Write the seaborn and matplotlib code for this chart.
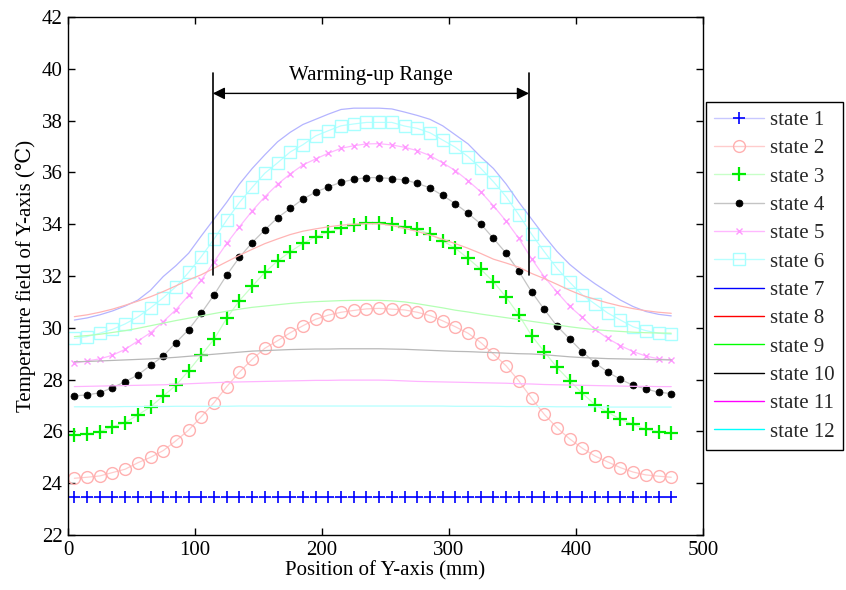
import numpy as np
import pandas as pd
import seaborn as sns
import matplotlib
matplotlib.use("Agg")
import matplotlib.pyplot as plt
from matplotlib.lines import Line2D

# ---------------- data ----------------
position_mm = list(range(5, 476, 10))  # 48 sample positions

state1 = [23.45] * 48
state2 = [24.19, 24.23, 24.28, 24.41, 24.54, 24.79, 25.00, 25.26, 25.64, 26.05,
          26.57, 27.11, 27.73, 28.29, 28.78, 29.21, 29.50, 29.81, 30.08, 30.33,
          30.49, 30.60, 30.67, 30.73, 30.75, 30.72, 30.69, 30.60, 30.47, 30.27,
          30.04, 29.79, 29.43, 28.99, 28.53, 27.95, 27.28, 26.66, 26.14, 25.71,
          25.35, 25.05, 24.82, 24.60, 24.43, 24.32, 24.27, 24.23]
state3 = [25.86, 25.90, 25.99, 26.18, 26.34, 26.63, 26.95, 27.37, 27.78, 28.34,
          28.95, 29.56, 30.37, 31.05, 31.60, 32.14, 32.58, 32.94, 33.26, 33.52,
          33.70, 33.84, 33.97, 34.03, 34.03, 34.00, 33.90, 33.80, 33.62, 33.36,
          33.07, 32.68, 32.26, 31.78, 31.18, 30.50, 29.70, 29.08, 28.47, 27.96,
          27.47, 27.03, 26.74, 26.47, 26.27, 26.08, 25.99, 25.95]
state4 = [27.37, 27.41, 27.49, 27.69, 27.92, 28.18, 28.55, 28.91, 29.43, 29.93,
          30.57, 31.27, 32.04, 32.72, 33.29, 33.78, 34.25, 34.61, 34.97, 35.24,
          35.44, 35.62, 35.73, 35.80, 35.80, 35.76, 35.71, 35.58, 35.40, 35.11,
          34.79, 34.42, 34.01, 33.45, 32.88, 32.18, 31.39, 30.71, 30.07, 29.57,
          29.07, 28.65, 28.29, 28.01, 27.78, 27.64, 27.51, 27.46]
state5 = [28.63, 28.72, 28.80, 28.94, 29.17, 29.49, 29.81, 30.24, 30.70, 31.25,
          31.84, 32.55, 33.26, 33.90, 34.51, 35.06, 35.54, 35.94, 36.29, 36.52,
          36.74, 36.93, 37.03, 37.10, 37.11, 37.06, 36.97, 36.84, 36.65, 36.37,
          36.07, 35.68, 35.25, 34.71, 34.12, 33.45, 32.67, 31.97, 31.38, 30.83,
          30.40, 29.94, 29.59, 29.31, 29.08, 28.91, 28.80, 28.76]
state6 = [29.59, 29.66, 29.79, 29.94, 30.15, 30.42, 30.77, 31.16, 31.59, 32.14,
          32.75, 33.43, 34.16, 34.84, 35.42, 35.97, 36.37, 36.79, 37.07, 37.41,
          37.61, 37.80, 37.87, 37.93, 37.93, 37.93, 37.79, 37.70, 37.53, 37.25,
          36.97, 36.61, 36.16, 35.64, 35.06, 34.36, 33.62, 32.94, 32.30, 31.76,
          31.27, 30.92, 30.57, 30.30, 30.04, 29.89, 29.79, 29.75]
state7 = [30.30, 30.38, 30.50, 30.65, 30.84, 31.07, 31.45, 31.98, 32.40, 32.88,
          33.55, 34.20, 34.85, 35.55, 36.15, 36.68, 37.18, 37.55, 37.85, 38.05,
          38.25, 38.43, 38.48, 38.48, 38.48, 38.45, 38.33, 38.20, 38.05, 37.80,
          37.45, 37.10, 36.60, 36.15, 35.55, 34.85, 34.20, 33.55, 32.95, 32.45,
          32.05, 31.70, 31.38, 31.07, 30.82, 30.63, 30.52, 30.46]
state8 = [30.43, 30.50, 30.60, 30.72, 30.87, 31.03, 31.20, 31.40, 31.62, 31.85,
          32.05, 32.30, 32.55, 32.80, 33.03, 33.25, 33.43, 33.60, 33.73, 33.82,
          33.90, 33.96, 34.00, 34.02, 34.02, 33.95, 33.84, 33.72, 33.58, 33.42,
          33.25, 33.07, 32.87, 32.65, 32.50, 32.34, 32.10, 31.90, 31.68, 31.45,
          31.25, 31.10, 30.96, 30.84, 30.74, 30.66, 30.60, 30.56]
state9 = [29.66, 29.70, 29.75, 29.82, 29.89, 29.98, 30.08, 30.18, 30.28, 30.37,
          30.46, 30.55, 30.64, 30.72, 30.79, 30.84, 30.89, 30.94, 30.98, 31.01,
          31.03, 31.05, 31.06, 31.06, 31.06, 31.04, 31.00, 30.93, 30.85, 30.77,
          30.68, 30.61, 30.53, 30.46, 30.39, 30.32, 30.25, 30.18, 30.11, 30.04,
          29.98, 29.93, 29.89, 29.86, 29.83, 29.81, 29.80, 29.79]
state10 = [28.69, 28.70, 28.72, 28.74, 28.76, 28.78, 28.80, 28.83, 28.86, 28.90,
           28.94, 28.98, 29.02, 29.06, 29.10, 29.12, 29.14, 29.16, 29.17, 29.18,
           29.18, 29.19, 29.19, 29.19, 29.19, 29.18, 29.17, 29.15, 29.13, 29.11,
           29.09, 29.08, 29.06, 29.04, 29.02, 29.00, 28.99, 28.96, 28.92, 28.88,
           28.85, 28.83, 28.81, 28.80, 28.79, 28.78, 28.77, 28.76]
state11 = [27.73, 27.74, 27.75, 27.76, 27.77, 27.78, 27.79, 27.80, 27.82, 27.84,
           27.86, 27.88, 27.90, 27.91, 27.92, 27.93, 27.94, 27.95, 27.96, 27.97,
           27.97, 27.98, 27.98, 27.98, 27.98, 27.97, 27.95, 27.93, 27.92, 27.91,
           27.90, 27.89, 27.88, 27.87, 27.86, 27.84, 27.83, 27.81, 27.80, 27.79,
           27.78, 27.77, 27.76, 27.75, 27.74, 27.74, 27.73, 27.73]
state12 = [26.95, 26.95, 26.95, 26.95, 26.96, 26.96, 26.96, 26.96, 26.97, 26.97,
           26.97, 26.97, 26.97, 26.98, 26.98, 26.98, 26.98, 26.98, 26.98, 26.98,
           26.98, 26.98, 26.98, 26.98, 26.98, 26.98, 26.98, 26.98, 26.98, 26.98,
           26.97, 26.97, 26.97, 26.97, 26.96, 26.96, 26.96, 26.96, 26.95, 26.95,
           26.95, 26.95, 26.94, 26.94, 26.94, 26.94, 26.94, 26.94]

state_labels = ["state %d" % i for i in range(1, 13)]
x_ticks = [0, 100, 200, 300, 400, 500]
y_ticks = [22, 24, 26, 28, 30, 32, 34, 36, 38, 40, 42]

range_start_mm = 114
range_end_mm = 363
range_label = "Warming-up Range"

# ---------------- style ----------------
sns.set_theme(style="ticks")
plt.rcParams["font.family"] = ["Liberation Serif", "DejaVu Serif", "DejaVu Sans"]
FS = 15

fig = plt.figure(figsize=(8.46, 5.90), dpi=100)
fig.patch.set_facecolor("white")
ax = fig.add_axes([68 / 846, 1 - 535 / 590, (703 - 68) / 846, (535 - 17) / 590])
ax.set_facecolor("white")

series = [state1, state2, state3, state4, state5, state6,
          state7, state8, state9, state10, state11, state12]

styles = [
    dict(color="#c8c8ff", marker="+", markersize=8.0, markeredgecolor="#0000ff", markerfacecolor="none", markeredgewidth=1.2),
    dict(color="#ffcccc", marker="o", markersize=8.5, markeredgecolor="#ffb0b0", markerfacecolor="none", markeredgewidth=1.0),
    dict(color="#c8ffc8", marker="+", markersize=9.5, markeredgecolor="#00ee00", markerfacecolor="none", markeredgewidth=1.6),
    dict(color="#c4c4c4", marker="o", markersize=5.0, markeredgecolor="#000000", markerfacecolor="#000000", markeredgewidth=0.5),
    dict(color="#ffb8ff", marker="x", markersize=4.0, markeredgecolor="#ff99ff", markerfacecolor="none", markeredgewidth=1.0),
    dict(color="#b8ffff", marker="s", markersize=9.0, markeredgecolor="#a8ffff", markerfacecolor="none", markeredgewidth=1.0),
    dict(color="#b4b4ff"),
    dict(color="#ffb4b4"),
    dict(color="#b4ffb4"),
    dict(color="#b8b8b8"),
    dict(color="#ffb4ff"),
    dict(color="#b4ffff"),
]
legend_line_colors = ["#c8c8ff", "#ffcccc", "#c8ffc8", "#c4c4c4", "#ffb8ff", "#b8ffff",
                      "#0000ff", "#ff0000", "#00ff00", "#000000", "#ff00ff", "#00ffff"]

for vals, st in zip(series, styles):
    df = pd.DataFrame({"x": position_mm, "y": vals})
    sns.lineplot(data=df, x="x", y="y", ax=ax, sort=False, estimator=None,
                 linewidth=0.9, legend=False, **st)

# warming-up range annotation
range_top = 39.85
range_bottom = 32.05
arrow_y = 39.05
ax.plot([range_start_mm, range_start_mm], [range_bottom, range_top], color="black", lw=1.2)
ax.plot([range_end_mm, range_end_mm], [range_bottom, range_top], color="black", lw=1.2)
ax.annotate("", xy=(range_start_mm, arrow_y), xytext=(range_end_mm, arrow_y),
            arrowprops=dict(arrowstyle="<|-|>", color="black", lw=1.0,
                            mutation_scale=18, shrinkA=0, shrinkB=0))
ax.text((range_start_mm + range_end_mm) / 2, 39.75, range_label,
        ha="center", va="center", fontsize=FS, color="black")

ax.set_xlim(0, 500)
ax.set_ylim(22, 42)
ax.set_xticks(x_ticks)
ax.set_yticks(y_ticks)
ax.tick_params(direction="in", length=5, width=1, top=True, right=True,
               labelsize=FS, colors="black", pad=4)
for sp in ax.spines.values():
    sp.set_visible(True)
    sp.set_color("black")
    sp.set_linewidth(1.0)
ax.grid(False)
ax.set_xlabel("Position of Y-axis (mm)", fontsize=FS, color="black", labelpad=1)
ax.set_ylabel("Temperature field of Y-axis (\u2103)", fontsize=FS, color="black", labelpad=4)

# legend
handles = []
for i, st in enumerate(styles):
    kw = dict(color=legend_line_colors[i], lw=1.0)
    if "marker" in st:
        kw.update(marker=st["marker"], markersize=st["markersize"],
                  markeredgecolor=st["markeredgecolor"],
                  markerfacecolor=st["markerfacecolor"],
                  markeredgewidth=st["markeredgewidth"])
    handles.append(Line2D([0, 1], [0, 0], **kw))
leg = fig.legend(handles, state_labels, loc="upper left",
                 bbox_to_anchor=(706 / 846, 1 - 102 / 590), borderaxespad=0,
                 frameon=True, fancybox=False, framealpha=1, edgecolor="black",
                 fontsize=FS, handlelength=2.4, handletextpad=0.25,
                 labelspacing=0.42, borderpad=0.4)
leg.get_frame().set_linewidth(1.0)

fig.savefig("out.png", dpi=100, facecolor="white")
